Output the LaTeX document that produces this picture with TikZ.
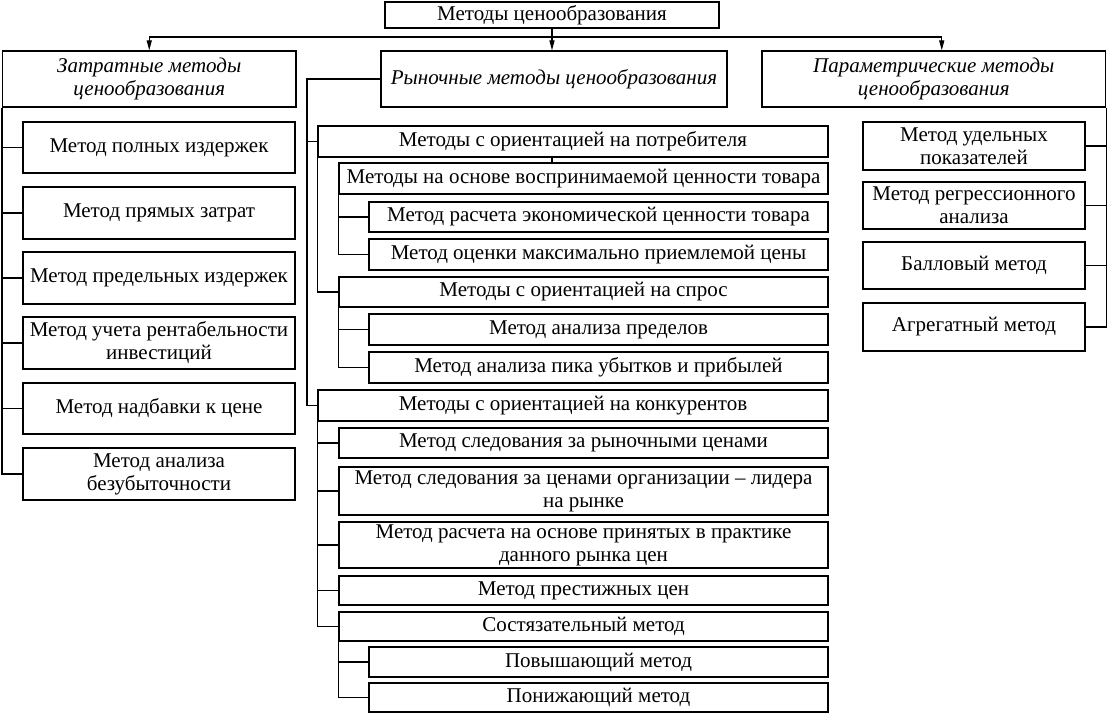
\documentclass[tikz,border=0pt]{standalone}
\usepackage{fontspec}
\setmainfont{Liberation Serif}
\usetikzlibrary{arrows.meta,calc}
\tikzset{
  bx/.style={draw,line width=1.2pt,inner sep=0pt,align=center,font=\fontsize{21}{23}\selectfont},
  ibx/.style={bx,font=\fontsize{21}{23}\selectfont\itshape},
  ln/.style={line width=1.2pt},
  arr/.style={ln,-{Triangle[width=5pt,length=10pt]}}
}
\newcommand\bx[7][bx]{\node[#1,minimum width={#5-#3},minimum height={#6-#4}] (#2) at ({(#3+#5)/2},{(#4+#6)/2}) {#7};}
\begin{document}
\begin{tikzpicture}[x=1pt,y=-1pt]
\useasboundingbox (0,0) rectangle (1108,714);
% top
\bx{T}{385}{2}{719}{28}{Методы ценообразования}
\bx[ibx]{Z}{2.5}{51}{296}{107}{Затратные методы\\ценообразования}
\bx[ibx]{R}{381}{51}{727}{107}{Рыночные методы ценообразования}
\bx[ibx]{P}{762}{51}{1105.5}{107}{Параметрические методы\\ценообразования}
% left column
\bx{L1}{23}{122}{295}{173}{Метод полных издержек}
\bx{L2}{23}{187}{295}{239}{Метод прямых затрат}
\bx{L3}{23}{252}{295}{304}{Метод предельных издержек}
\bx{L4}{23}{317}{295}{369}{Метод учета рентабельности\\инвестиций}
\bx{L5}{23}{383}{295}{434}{Метод надбавки к цене}
\bx{L6}{23}{448}{295}{500}{Метод анализа\\безубыточности}
% middle column
\bx{M1}{318}{126}{828}{157}{Методы с ориентацией на потребителя}
\bx{V}{339}{163}{828}{194}{Методы на основе воспринимаемой ценности товара}
\bx{V1}{369}{202}{828}{232}{Метод расчета экономической ценности товара}
\bx{V2}{369}{239}{828}{270}{Метод оценки максимально приемлемой цены}
\bx{S}{339}{277}{828}{307}{Методы с ориентацией на спрос}
\bx{S1}{369}{314}{828}{345}{Метод анализа пределов}
\bx{S2}{369}{352}{828}{383}{Метод анализа пика убытков и прибылей}
\bx{K}{318}{390}{828}{421}{Методы с ориентацией на конкурентов}
\bx{K1}{339}{428}{828}{458}{Метод следования за рыночными ценами}
\bx{K2}{339}{467}{828}{515}{Метод следования за ценами организации – лидера\\на рынке}
\bx{K3}{339}{522}{828}{568}{Метод расчета на основе принятых в практике\\данного рынка цен}
\bx{K4}{339}{576}{828}{605}{Метод престижных цен}
\bx{K5}{339}{612}{828}{641}{Состязательный метод}
\bx{K51}{369}{647}{828}{677}{Повышающий метод}
\bx{K52}{369}{683}{828}{712}{Понижающий метод}
% right column
\bx{Q1}{863}{122}{1085}{170}{Метод удельных\\показателей}
\bx{Q2}{863}{182}{1085}{229}{Метод регрессионного\\анализа}
\bx{Q3}{863}{242}{1085}{289}{Балловый метод}
\bx{Q4}{863}{303}{1085}{351}{Агрегатный метод}
% top connectors
\coordinate (bus) at (T.south |- 0,37);
\coordinate (pa) at ($(P.north)+(8,0)$);
\draw[arr] (T.south) -- (R.north -| T.south);
\draw[arr] (bus) -| (Z.north);
\draw[arr] (bus) -| (pa);
% left column connectors
\draw[ln] (Z.south west) |- (L6.west);
\foreach \n in {L1,L2,L3,L4,L5} \draw[ln] (\n.west) -- (\n.west -| Z.south west);
% right column connectors
\draw[ln] (P.south east) |- (Q4.east);
\foreach \n in {Q1,Q2,Q3} \draw[ln] (\n.east) -- (\n.east -| P.south east);
% middle connectors
\coordinate (mv) at (307,0);
\draw[ln] (R.west) -- (R.west -| mv) |- (K.west);
\draw[ln] (M1.west) -- (M1.west -| mv);
\draw[ln] (M1.south -| T.south) -- (V.north -| T.south);
\draw[ln] (M1.south west) |- (S.west);
\draw[ln] (V.south west) |- (V2.west);
\draw[ln] (V1.west) -- (V1.west -| V.south west);
\draw[ln] (S.south west) |- (S2.west);
\draw[ln] (S1.west) -- (S1.west -| S.south west);
\draw[ln] (K.south west) |- (K5.west);
\foreach \n in {K1,K2,K3,K4} \draw[ln] (\n.west) -- (\n.west -| K.south west);
\draw[ln] (K5.south west) |- (K52.west);
\draw[ln] (K51.west) -- (K51.west -| K5.south west);
\end{tikzpicture}
\end{document}
